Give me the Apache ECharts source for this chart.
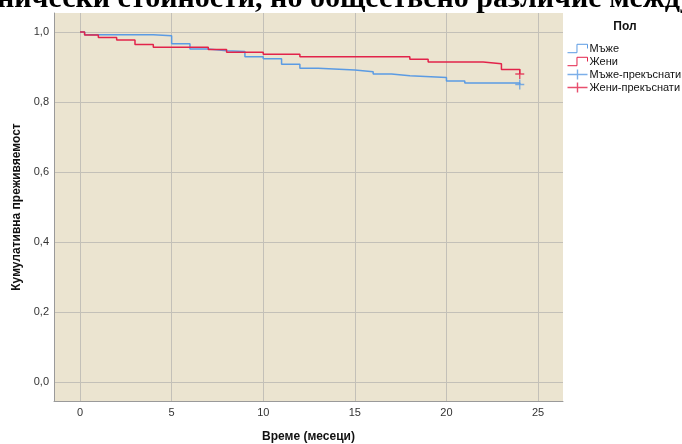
<!DOCTYPE html>
<html>
<head>
<meta charset="utf-8">
<script src="https://cdn.jsdelivr.net/npm/echarts@6/dist/echarts.min.js"></script>
<style>
  html, body { margin: 0; padding: 0; background: #ffffff; }
  #chart { width: 682px; height: 444px; }
</style>
</head>
<body>
<div id="chart"></div>
<script>
// Kaplan–Meier survival estimates: [time in months, cumulative survival]
const menSteps = [
  [0, 1.000], [0.25, 0.992], [4, 0.989], [5, 0.966], [6, 0.951], [7, 0.946],
  [8, 0.944], [9, 0.929], [10, 0.923], [11, 0.908], [12, 0.896], [13, 0.891],
  [15, 0.886], [16, 0.880], [17, 0.875], [18, 0.870], [20, 0.860], [21, 0.854],
  [24, 0.850]
];
const womenSteps = [
  [0, 1.000], [0.25, 0.991], [1, 0.984], [2, 0.977], [3, 0.964], [4, 0.956],
  [7, 0.950], [8, 0.942], [10, 0.936], [12, 0.929], [18, 0.922], [19, 0.914],
  [22, 0.909], [23, 0.893], [24, 0.880]
];
// censored observations
const menCensored = [[24, 0.850]];
const womenCensored = [[24, 0.880]];

const xTicks = [0, 5, 10, 15, 20, 25];
const yTicks = [0, 0.2, 0.4, 0.6, 0.8, 1.0];

const seriesNames = ['Мъже', 'Жени', 'Мъже-прекъснати', 'Жени-прекъснати'];
const legendTitle = 'Пол';
const xTitle = 'Време (месеци)';
const yTitle = 'Кумулативна преживяемост';
const headline = 'нически стойности, но обществено различие между';

const BLUE = '#5b9be3';
const RED = '#e2234a';
const GRID = '#c3c0b8';
const AXIS = '#9a9a9a';

const plusIcon = 'path://M0,3.4H8V4.6H0Z M3.4,0H4.6V8H3.4Z';
const stepIcon = 'path://M0,9H9V1H19V5';
const plusLegendIcon = 'path://M0,4.3H20V5.7H0Z M9.3,0H10.7V10H9.3Z';

const fmt = v => v.toFixed(1).replace('.', ',');

const chart = echarts.init(document.getElementById('chart'), null, { renderer: 'canvas' });

chart.setOption({
  backgroundColor: '#ffffff',
  animation: false,
  textStyle: { fontFamily: 'Liberation Sans, Arial, sans-serif' },
  graphic: [{
    type: 'text',
    silent: true,
    style: {
      x: -3,
      y: -0.5,
      text: headline,
      verticalAlign: 'middle',
      align: 'left',
      fontFamily: 'Liberation Serif, Times New Roman, serif',
      fontWeight: 'bold',
      fontSize: 30,
      fill: '#000000'
    }
  }, {
    type: 'text',
    silent: true,
    style: {
      x: 625,
      y: 27,
      text: legendTitle,
      align: 'center',
      verticalAlign: 'middle',
      fontFamily: 'Liberation Sans, Arial, sans-serif',
      fontWeight: 'bold',
      fontSize: 12,
      fill: '#111111'
    }
  }],
  legend: {
    orient: 'vertical',
    left: 567,
    top: 43,
    itemWidth: 20,
    itemHeight: 10,
    itemGap: 2,
    padding: 0,
    textStyle: { fontSize: 11, color: '#111111', padding: [0, 0, 0, -3] },
    data: [
      { name: seriesNames[0], icon: stepIcon, itemStyle: { color: 'transparent', borderColor: BLUE, borderWidth: 1 } },
      { name: seriesNames[1], icon: stepIcon, itemStyle: { color: 'transparent', borderColor: RED, borderWidth: 1 } },
      { name: seriesNames[2], icon: plusLegendIcon, itemStyle: { color: BLUE } },
      { name: seriesNames[3], icon: plusLegendIcon, itemStyle: { color: RED } }
    ]
  },
  grid: {
    left: 54,
    right: 119,
    top: 13,
    bottom: 43,
    containLabel: false,
    outerBoundsMode: 'none',
    show: true,
    backgroundColor: '#ebe4d0',
    borderWidth: 0
  },
  xAxis: {
    type: 'value',
    min: -1.42,
    max: 26.36,
    name: xTitle,
    nameLocation: 'middle',
    nameGap: 30,
    nameTextStyle: { fontSize: 12, fontWeight: 'bold', color: '#111111' },
    axisLine: { show: true, onZero: false, lineStyle: { color: AXIS, width: 1 } },
    axisTick: { show: false, customValues: xTicks },
    axisLabel: { customValues: xTicks, margin: 6, fontSize: 11, color: '#333333', formatter: v => String(v) },
    splitLine: { show: true, lineStyle: { color: GRID, width: 1 } }
  },
  yAxis: {
    type: 'value',
    min: -0.054,
    max: 1.054,
    name: yTitle,
    nameLocation: 'middle',
    nameGap: 30,
    nameTextStyle: { fontSize: 12, fontWeight: 'bold', color: '#111111' },
    axisLine: { show: true, onZero: false, lineStyle: { color: AXIS, width: 1 } },
    axisTick: { show: false, customValues: yTicks },
    axisLabel: { customValues: yTicks, margin: 5, fontSize: 11, color: '#333333', formatter: fmt },
    splitLine: { show: true, lineStyle: { color: GRID, width: 1 } }
  },
  series: [
    {
      name: seriesNames[0],
      type: 'line',
      step: 'end',
      data: menSteps,
      showSymbol: false,
      lineStyle: { color: BLUE, width: 1.5 },
      itemStyle: { color: BLUE },
      z: 2
    },
    {
      name: seriesNames[1],
      type: 'line',
      step: 'end',
      data: womenSteps,
      showSymbol: false,
      lineStyle: { color: RED, width: 1.5 },
      itemStyle: { color: RED },
      z: 3
    },
    {
      name: seriesNames[2],
      type: 'scatter',
      data: menCensored,
      symbol: plusIcon,
      symbolSize: [9, 10],
      itemStyle: { color: BLUE },
      z: 4
    },
    {
      name: seriesNames[3],
      type: 'scatter',
      data: womenCensored,
      symbol: plusIcon,
      symbolSize: [9, 10],
      itemStyle: { color: RED },
      z: 5
    }
  ]
});
</script>
</body>
</html>
